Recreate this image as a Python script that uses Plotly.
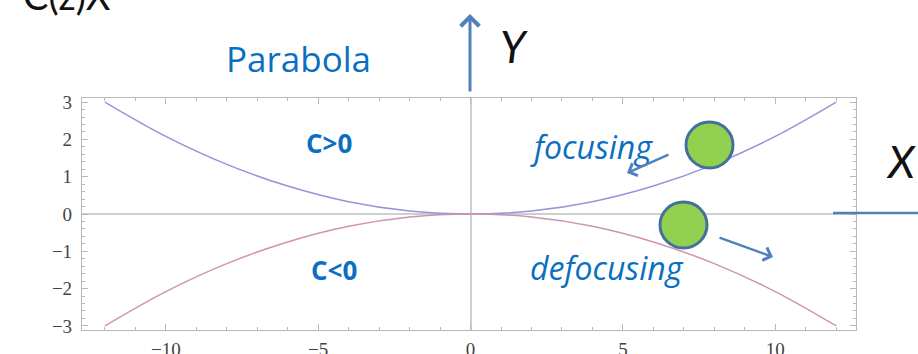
import plotly.graph_objects as go

# Sampled trajectories: focusing branch (C>0) and defocusing branch (C<0)
x_vals = [-12, -10, -8, -6, -4, -2, 0, 2, 4, 6, 8, 10, 12]
y_focus = [3.0, 2.08, 1.33, 0.75, 0.33, 0.08, 0.0, 0.08, 0.33, 0.75, 1.33, 2.08, 3.0]
y_defocus = [-3.0, -2.08, -1.33, -0.75, -0.33, -0.08, 0.0, -0.08, -0.33, -0.75, -1.33, -2.08, -3.0]

x_ticks = [-10, -5, 0, 5, 10]
x_tick_text = ["\u221210", "\u22125", "0", "5", "10"]
y_ticks = [-3, -2, -1, 0, 1, 2, 3]
y_tick_text = ["\u22123", "\u22122", "\u22121", "0", "1", "2", "3"]

W, H = 918, 354
L, R, T, B = 82, 62, 98, 24
PW, PH = W - L - R, H - T - B


def px(x):
    return (x - L) / PW


def py(y):
    return (H - B - y) / PH


BLUE_TXT = "#0a6fc2"
ARROW = "#4f81bd"

fig = go.Figure()
fig.add_trace(go.Scatter(x=x_vals, y=y_focus, mode="lines", line_shape="spline",
                         line=dict(color="#9595d8", width=1.5), showlegend=False))
fig.add_trace(go.Scatter(x=x_vals, y=y_defocus, mode="lines", line_shape="spline",
                         line=dict(color="#d093b0", width=1.5), showlegend=False))

tick_font = dict(family="Liberation Serif", size=19, color="#444444")
frame = "#b8b8b8"

fig.update_xaxes(range=[-12.75, 12.65], tickmode="array", tickvals=x_ticks, ticktext=x_tick_text,
                 showgrid=False, zeroline=True, zerolinecolor="#cfcfcf", zerolinewidth=1.5,
                 showline=True, mirror="allticks", linecolor=frame, linewidth=1.2,
                 ticks="inside", ticklen=6, tickcolor=frame, tickwidth=1,
                 minor=dict(ticks="inside", ticklen=3, tickcolor=frame, tickmode="linear", tick0=0, dtick=1),
                 tickfont=tick_font, ticklabelstandoff=2, automargin=False)
fig.update_yaxes(range=[-3.11, 3.11], tickmode="array", tickvals=y_ticks, ticktext=y_tick_text,
                 showgrid=False, zeroline=True, zerolinecolor="#cfcfcf", zerolinewidth=1.5,
                 showline=True, mirror="allticks", linecolor=frame, linewidth=1.2,
                 ticks="inside", ticklen=6, tickcolor=frame, tickwidth=1,
                 minor=dict(ticks="inside", ticklen=3, tickcolor=frame, tickmode="linear", tick0=0, dtick=0.2),
                 tickfont=tick_font, ticklabelstandoff=5, automargin=False)

ann = []


def text(s, x, y, size, color, family="Open Sans", bold=False, italic=False):
    if bold:
        s = "<b>" + s + "</b>"
    if italic:
        s = "<i>" + s + "</i>"
    ann.append(dict(text=s, x=px(x), y=py(y), xref="paper", yref="paper",
                    xanchor="center", yanchor="middle", showarrow=False,
                    font=dict(family=family, size=size, color=color)))


def arrow(x0, y0, x1, y1, head=4, size=1.0, width=2.5):
    ann.append(dict(text="", x=px(x1), y=py(y1), xref="paper", yref="paper",
                    ax=x0 - x1, ay=y0 - y1, showarrow=True, arrowhead=head,
                    arrowsize=size, arrowwidth=width, arrowcolor=ARROW))


text("C(z)X", 67, -5, 38, "#111111", family="Lato")
text("Parabola", 298, 58, 35, BLUE_TXT)
text("Y", 514, 46, 44, "#111111", family="Lato", italic=True)
text("X", 901, 161, 44, "#111111", family="Lato", italic=True)
text("C>0", 329, 143, 26, BLUE_TXT, bold=True)
text("C<0", 334, 270, 26, BLUE_TXT, bold=True)
text("focusing", 591, 146, 32, BLUE_TXT, italic=True)
text("defocusing", 607, 267, 32, BLUE_TXT, italic=True)

arrow(470, 93, 470, 14, head=4, size=1.2, width=3)
arrow(670, 154, 627, 173, head=4, size=1.1, width=2.4)
arrow(718, 237, 773, 257, head=4, size=1.1, width=2.4)

shapes = [
    dict(type="line", xref="paper", yref="paper", x0=px(833), x1=px(918), y0=py(213), y1=py(213),
         line=dict(color=ARROW, width=2.5)),
    dict(type="circle", xref="paper", yref="paper", x0=px(686), x1=px(733), y0=py(122), y1=py(168),
         fillcolor="#92d050", line=dict(color="#41719c", width=3)),
    dict(type="circle", xref="paper", yref="paper", x0=px(660), x1=px(707), y0=py(202), y1=py(248),
         fillcolor="#92d050", line=dict(color="#41719c", width=3)),
]

fig.update_layout(width=W, height=H, autosize=False,
                  margin=dict(l=L, r=R, t=T, b=B, pad=0),
                  paper_bgcolor="white", plot_bgcolor="white",
                  annotations=ann, shapes=shapes, showlegend=False)

fig.write_html("out.html")
